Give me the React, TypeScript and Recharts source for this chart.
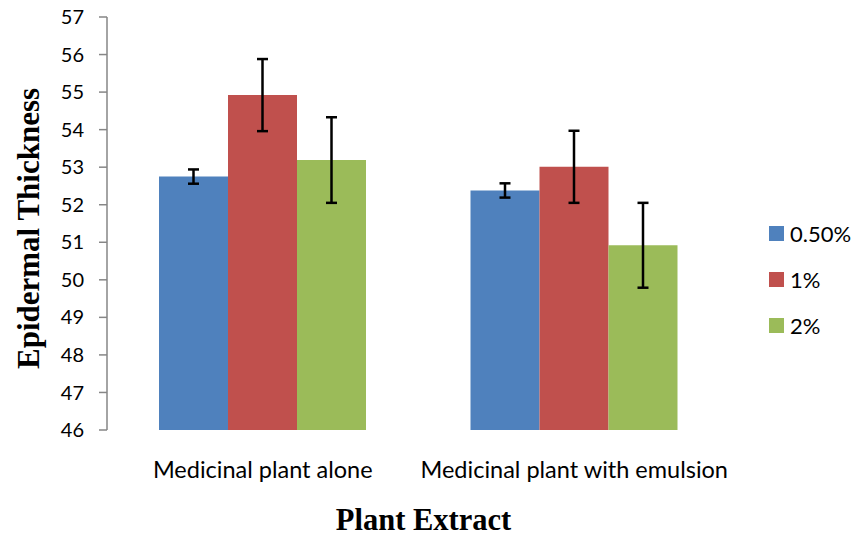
import React from 'react';
import { BarChart, Bar, XAxis, YAxis, ErrorBar, Legend, Label } from 'recharts';

// values
const categories = ['Medicinal plant alone', 'Medicinal plant with emulsion'];
const seriesNames = ['0.50%', '1%', '2%'];
const seriesColors = ['#4F81BD', '#C0504D', '#9BBB59'];
const thickness050 = [52.75, 52.38];
const thickness1 = [54.92, 53.01];
const thickness2 = [53.19, 50.92];
const error050 = [0.19, 0.19];
const error1 = [0.96, 0.96];
const error2 = [1.14, 1.13];
const yTicks = [46, 47, 48, 49, 50, 51, 52, 53, 54, 55, 56, 57];
const edgeTicks = [0, 1, 2];

const data = categories.map((name, i) => ({
    name,
    s0: thickness050[i],
    s1: thickness1[i],
    s2: thickness2[i],
    e0: error050[i],
    e1: error1[i],
    e2: error2[i],
}));

const axisColor = '#868686';
const tickFont = 'Lato, "Open Sans", sans-serif';
const titleFont = '"Liberation Serif", "Times New Roman", serif';

const renderLegend = (props: any) => {
    const { payload } = props;
    return (
        <div>
            {payload.map((entry: any) => (
                <div
                    key={entry.value}
                    style={{ display: 'flex', alignItems: 'center', height: 46, fontFamily: tickFont, fontSize: 22, color: '#000' }}
                >
                    <span style={{ display: 'inline-block', width: 15, height: 15, background: entry.color, marginRight: 6 }} />
                    <span>{entry.value}</span>
                </div>
            ))}
        </div>
    );
};

const renderYTitle = (props: any) => {
    const { viewBox } = props;
    const cx = viewBox.x + 28;
    const cy = viewBox.y + viewBox.height / 2 + 5;
    return (
        <text
            x={cx}
            y={cy}
            transform={`rotate(-90, ${cx}, ${cy})`}
            textAnchor="middle"
            dominantBaseline="central"
            fontFamily={titleFont}
            fontWeight="bold"
            fontSize={31}
            fill="#000"
        >
            Epidermal Thickness
        </text>
    );
};

export default function App() {
    return (
        <div style={{ position: 'absolute', left: 0, top: 0, background: '#fff' }}>
            <BarChart
                width={856}
                height={537}
                data={data}
                margin={{ top: 17, right: 126, bottom: 0, left: 0 }}
                barGap={0}
            >
                <XAxis
                    xAxisId="edge"
                    type="number"
                    domain={[0, 2]}
                    ticks={edgeTicks}
                    height={0}
                    tick={false}
                    tickSize={8}
                    stroke={axisColor}
                    strokeWidth={1.5}
                />
                <XAxis
                    dataKey="name"
                    height={107}
                    axisLine={false}
                    tickLine={false}
                    tickSize={8}
                    tickMargin={23}
                    tick={{ fill: '#000', fontFamily: tickFont, fontSize: 23.5 }}
                    interval={0}
                >
                    <Label
                        value="Plant Extract"
                        position="insideBottom"
                        offset={7}
                        dx={5}
                        style={{ fontFamily: titleFont, fontWeight: 'bold', fontSize: 30.5, fill: '#000' }}
                    />
                </XAxis>
                <YAxis
                    width={107}
                    domain={[46, 57]}
                    ticks={yTicks}
                    interval={0}
                    tickSize={8}
                    tickMargin={15}
                    stroke={axisColor}
                    strokeWidth={1.5}
                    tick={{ fill: '#000', fontFamily: tickFont, fontSize: 20 }}
                    allowDataOverflow
                >
                    <Label content={renderYTitle} />
                </YAxis>
                <Legend
                    layout="vertical"
                    align="center"
                    verticalAlign="middle"
                    content={renderLegend}
                    wrapperStyle={{ left: 769, top: 210, width: 87 }}
                />
                <Bar dataKey="s0" name={seriesNames[0]} fill={seriesColors[0]} barSize={69} isAnimationActive={false}>
                    <ErrorBar dataKey="e0" width={5.5} strokeWidth={2.5} stroke="#000" direction="y" />
                </Bar>
                <Bar dataKey="s1" name={seriesNames[1]} fill={seriesColors[1]} barSize={69} isAnimationActive={false}>
                    <ErrorBar dataKey="e1" width={5.5} strokeWidth={2.5} stroke="#000" direction="y" />
                </Bar>
                <Bar dataKey="s2" name={seriesNames[2]} fill={seriesColors[2]} barSize={69} isAnimationActive={false}>
                    <ErrorBar dataKey="e2" width={5.5} strokeWidth={2.5} stroke="#000" direction="y" />
                </Bar>
            </BarChart>
        </div>
    );
}
